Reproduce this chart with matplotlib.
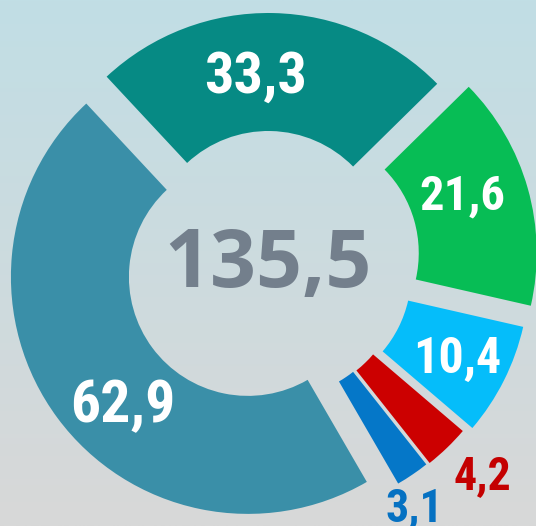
import numpy as np
import matplotlib.pyplot as plt

# values of the ring, clockwise from the top segment
values = [33.3, 21.6, 10.4, 4.2, 3.1, 62.9]
labels = ['33,3', '21,6', '10,4', '4,2', '3,1', '62,9']
total_label = '135,5'

colors = ['#068a84', '#07bd55', '#05bdfa', '#cc0000', '#0577c8', '#3a8fa8']
label_colors = ['white', 'white', 'white', '#c40000', '#0571c2', 'white']
explode = [12, 33, 27, 21, 20, 25]  # px
# label placement: distance from centre (px), angle shift from wedge middle (deg), size (pt)
label_dist = [170, 201, 219, 312, 297, 216]
label_shift = [5.6, -0.8, -3.7, -0.6, -4.8, 11.3]
label_size = [42, 35, 36, 33, 33, 43]

W, H = 536, 526
cx, cy = 268, H - 262
R, ring = 237, 118

fig = plt.figure(figsize=(W / 100, H / 100), dpi=100)
ax = fig.add_axes([0, 0, 1, 1])

# background gradient
top = np.array([193, 222, 229]) / 255
bot = np.array([216, 216, 216]) / 255
t = np.linspace(0, 1, 256)[:, None]
grad = top * (1 - t) + bot * t
ax.imshow(grad[:, None, :], extent=[0, W, 0, H], aspect='auto', zorder=0)

wedges, _ = ax.pie(values, colors=colors, explode=explode, radius=R,
                   center=(cx, cy), startangle=133, counterclock=False,
                   wedgeprops=dict(width=ring, linewidth=0, edgecolor='none'))

font = ['Noto Sans Condensed', 'Roboto Condensed', 'Liberation Sans Narrow',
        'DejaVu Sans']
for w, lab, c, d, s, fs in zip(wedges, labels, label_colors,
                               label_dist, label_shift, label_size):
    mid = np.deg2rad((w.theta1 + w.theta2) / 2 + s)
    ax.text(cx + d * np.cos(mid), cy + d * np.sin(mid), lab, color=c,
            fontsize=fs, fontweight='bold', fontstretch='condensed',
            family=font, ha='center', va='baseline', zorder=5)

ax.text(cx, cy - 25, total_label, color='#737f8c', fontsize=58,
        fontweight='bold', family=['Open Sans', 'DejaVu Sans'],
        ha='center', va='baseline', zorder=5)

ax.set_xlim(0, W)
ax.set_ylim(0, H)
ax.axis('off')

fig.savefig('out.png', dpi=100)
